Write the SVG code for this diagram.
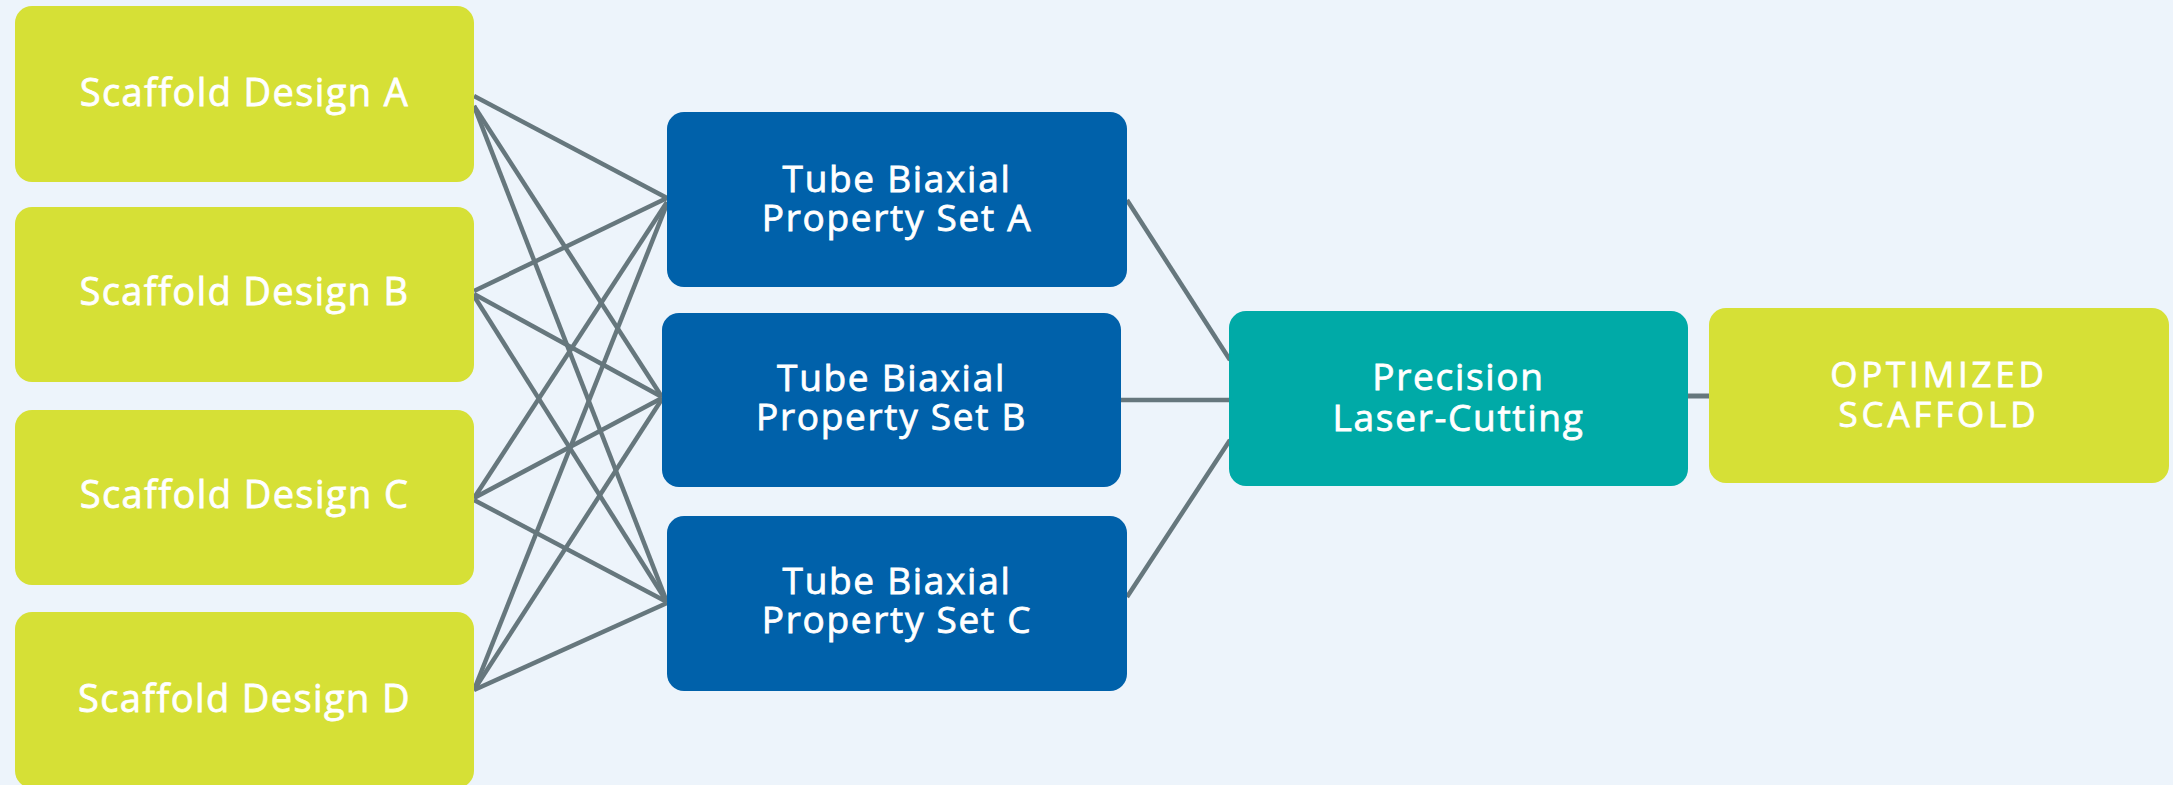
<svg xmlns="http://www.w3.org/2000/svg" width="2173" height="785" viewBox="0 0 2173 785">
  <style>
    .bg { fill: #EDF4FB; }
    .green { fill: #D6E036; }
    .blue { fill: #0061AA; }
    .teal { fill: #00AAA7; }
    .wire { stroke: #66777D; stroke-width: 4.5; fill: none; stroke-linecap: butt; }
    .lbl { font-family: "Open Sans", "Liberation Sans", sans-serif; font-weight: 400; fill: #FFFFFF; stroke: #FFFFFF; stroke-width: 0.8px; text-anchor: middle; }
    .s { font-size: 38px; letter-spacing: 1.4px; }
    .p { font-size: 37px; letter-spacing: 1.7px; }
    .caps { font-size: 35px; letter-spacing: 3.8px; }
  </style>

  <rect class="bg" x="0" y="0" width="2173" height="785"/>

  <!-- connectors -->
  <g id="connectors">
    <!-- scaffold designs to property sets -->
    <line class="wire" x1="474" y1="96" x2="667" y2="198"/>
    <line class="wire" x1="474" y1="106" x2="662" y2="397"/>
    <line class="wire" x1="474" y1="106" x2="667" y2="602"/>
    <line class="wire" x1="474" y1="291" x2="667" y2="198"/>
    <line class="wire" x1="474" y1="294" x2="662" y2="397"/>
    <line class="wire" x1="474" y1="296" x2="667" y2="602"/>
    <line class="wire" x1="474" y1="498" x2="667" y2="202"/>
    <line class="wire" x1="474" y1="498" x2="662" y2="398"/>
    <line class="wire" x1="474" y1="500" x2="667" y2="602"/>
    <line class="wire" x1="474" y1="690" x2="667" y2="204"/>
    <line class="wire" x1="474" y1="690" x2="662" y2="399"/>
    <line class="wire" x1="474" y1="690" x2="667" y2="603"/>
    <!-- property sets to laser cutting -->
    <line class="wire" x1="1127" y1="200" x2="1230" y2="360"/>
    <line class="wire" x1="1120" y1="400" x2="1230" y2="400"/>
    <line class="wire" x1="1127" y1="597" x2="1230" y2="440"/>
    <!-- laser cutting to result -->
    <line class="wire" x1="1687" y1="396" x2="1710" y2="396" style="stroke-width:5"/>
  </g>

  <g id="scaffold-a">
    <rect class="green" x="15" y="6" width="459" height="176" rx="17"/>
    <text class="lbl s" x="244.5" y="106">Scaffold Design A</text>
  </g>
  <g id="scaffold-b">
    <rect class="green" x="15" y="207" width="459" height="175" rx="17"/>
    <text class="lbl s" x="244.5" y="305">Scaffold Design B</text>
  </g>
  <g id="scaffold-c">
    <rect class="green" x="15" y="410" width="459" height="175" rx="17"/>
    <text class="lbl s" x="244.5" y="508">Scaffold Design C</text>
  </g>
  <g id="scaffold-d">
    <rect class="green" x="15" y="612" width="459" height="176" rx="17"/>
    <text class="lbl s" x="244.5" y="712">Scaffold Design D</text>
  </g>

  <g id="property-a">
    <rect class="blue" x="667" y="112" width="460" height="175" rx="17"/>
    <text class="lbl p"><tspan x="897" y="192">Tube Biaxial</tspan><tspan x="897" y="231">Property Set A</tspan></text>
  </g>
  <g id="property-b">
    <rect class="blue" x="662" y="313" width="459" height="174" rx="17"/>
    <text class="lbl p"><tspan x="891.5" y="391">Tube Biaxial</tspan><tspan x="891.5" y="430">Property Set B</tspan></text>
  </g>
  <g id="property-c">
    <rect class="blue" x="667" y="516" width="460" height="175" rx="17"/>
    <text class="lbl p"><tspan x="897" y="594">Tube Biaxial</tspan><tspan x="897" y="633">Property Set C</tspan></text>
  </g>

  <g id="laser-cutting">
    <rect class="teal" x="1229" y="311" width="459" height="175" rx="17"/>
    <text class="lbl p"><tspan x="1458.5" y="390">Precision</tspan><tspan x="1458.5" y="431">Laser-Cutting</tspan></text>
  </g>

  <g id="optimized-scaffold">
    <rect class="green" x="1709" y="308" width="460" height="175" rx="17"/>
    <text class="lbl caps"><tspan x="1939" y="387">OPTIMIZED</tspan><tspan x="1939" y="427">SCAFFOLD</tspan></text>
  </g>
</svg>
